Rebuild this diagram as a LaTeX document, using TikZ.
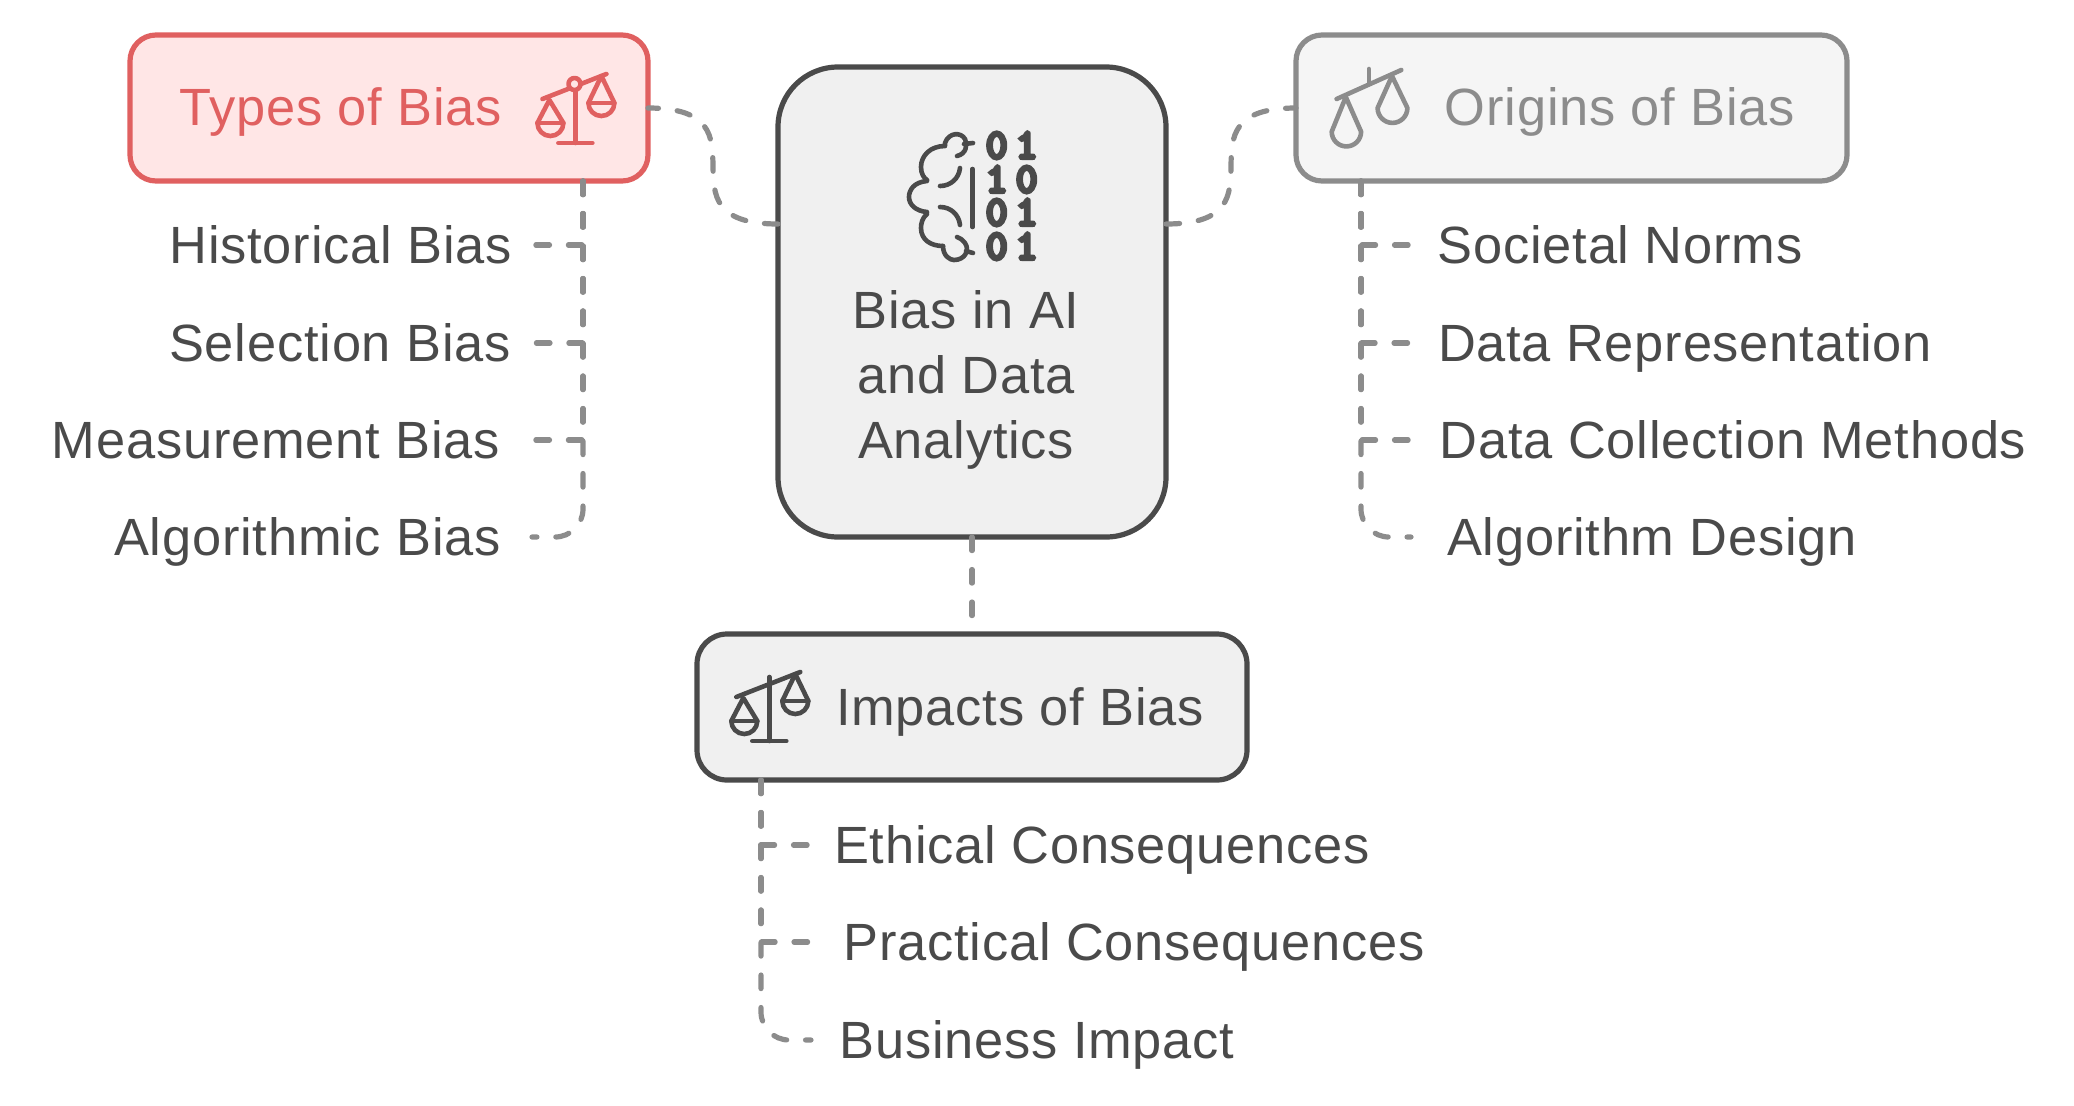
\documentclass[tikz,border=0pt]{standalone}
\usepackage{fontspec}
\setmainfont[LetterSpace=1.5]{Liberation Sans}
\newfontfamily\bitfont[FakeBold=10]{Latin Modern Mono}
\usetikzlibrary{positioning}
\definecolor{biasred}{HTML}{E06060}
\definecolor{biasredfill}{HTML}{FFE6E6}
\definecolor{biasdark}{HTML}{4A4A4A}
\definecolor{biasgrey}{HTML}{8C8C8C}
\tikzset{box/.style={rectangle,line width=2.6pt,outer sep=0pt,inner sep=0pt}}
\tikzset{redbox/.style={box,draw=biasred,fill=biasredfill,minimum width=259pt,minimum height=73pt,rounded corners=13pt}}
\tikzset{greybox/.style={box,draw=biasgrey,fill=black!4,minimum width=275.5pt,minimum height=73pt,rounded corners=13pt}}
\tikzset{darkbox/.style={box,draw=biasdark,fill=black!6,minimum width=275pt,minimum height=73pt,rounded corners=15pt}}
\tikzset{lab/.style={inner sep=0pt,outer sep=0pt,text height=18.8pt,text depth=0pt,text=biasdark,font=\fontsize{26.2}{32.4}\selectfont}}
\tikzset{bit/.style={inner sep=0pt,text height=12pt,text depth=0pt,text=biasdark,font=\fontsize{20.5}{20.5}\bitfont}}
\tikzset{conn/.style={draw=biasgrey,line width=2.6pt,line cap=round,dash pattern=on 6.8pt off 9.45pt}}
\tikzset{icon/.style={line width=2.3pt,line cap=round,line join=round}}
\tikzset{balance/.pic={
  \draw (-33,-44) -- (31,-69);
  \draw (0,-64) -- (0,0);
  \draw (-17,0) -- (17,0);
  \draw (-26,-43) -- (-38,-20) arc (180:0:13) -- cycle;
  \draw (-38,-20) -- (-12,-20);
  \draw (26,-67) -- (13,-40) arc (180:0:13) -- cycle;
  \draw (13,-40) -- (39,-40);
}}
\begin{document}
\begin{tikzpicture}[x=0.5pt,y=-0.5pt]
  \useasboundingbox (0,0) rectangle (2074,1105);
  % boxes
  \node[redbox] (types) at (389,108) {};
  \node[greybox] (origins) at (1571.5,108) {};
  \node[box,draw=biasdark,fill=black!6,minimum width=194pt,minimum height=235pt,rounded corners=30pt] (bias) at (972,302) {};
  \node[darkbox] (impacts) at (972,707) {};
  % titles
  \node[lab,text=biasred] (typeslab) at (340.6,107) {Types of Bias};
  \node[lab,text=biasgrey] (originslab) at (1620,107) {Origins of Bias};
  \node[lab] (impactslab) at (1020,707) {Impacts of Bias};
  \node[lab,align=center,text height=,text depth=] (biaslab) at (966,380) {Bias in AI\\and Data\\Analytics};
  % left column
  \node[lab,minimum width=195pt] (historical) at (340.6,245) {Historical Bias};
  \node[lab,minimum width=196pt] (selection) at (340,343) {Selection Bias};
  \node[lab,minimum width=260pt] (measurement) at (275.8,440) {Measurement Bias};
  \node[lab,minimum width=224.5pt] (algorithmic) at (307.5,537) {Algorithmic Bias};
  % right column
  \node[lab,minimum width=209pt] (societal) at (1620,245) {Societal Norms};
  \node[lab,minimum width=274pt] (datarep) at (1685,343) {Data Representation};
  \node[lab,minimum width=322pt] (datacoll) at (1733,440) {Data Collection Methods};
  \node[lab,minimum width=241pt] (algdesign) at (1652,537) {Algorithm Design};
  % bottom column
  \node[lab,minimum width=291pt] (ethical) at (1102,845) {Ethical Consequences};
  \node[lab,minimum width=323pt] (practical) at (1134,942) {Practical Consequences};
  \node[lab,minimum width=226pt] (business) at (1037,1040) {Business Impact};
  % trunks
  \coordinate (typestrunk) at (583,181);
  \coordinate (originstrunk) at (1361,181);
  \coordinate (impactstrunk) at (761,780);
  % connectors
  \draw[conn] (bias.west |- 0,224) to[out=180,in=0,distance=64pt] (types.east);
  \draw[conn] (bias.east |- 0,224) to[out=0,in=180,distance=64pt] (origins.west);
  \draw[conn] (bias.south) -- (impacts.north);
  \draw[conn] (typestrunk) |- (historical.east);
  \draw[conn] (typestrunk) |- (selection.east);
  \draw[conn] (typestrunk) |- (measurement.east);
  \draw[conn,rounded corners=14pt] (typestrunk) |- (algorithmic.east);
  \draw[conn] (originstrunk) |- (societal.west);
  \draw[conn] (originstrunk) |- (datarep.west);
  \draw[conn] (originstrunk) |- (datacoll.west);
  \draw[conn,rounded corners=14pt] (originstrunk) |- (algdesign.west);
  \draw[conn] (impactstrunk) |- (ethical.west);
  \draw[conn] (impactstrunk) |- (practical.west);
  \draw[conn,rounded corners=14pt] (impactstrunk) |- (business.west);
  % icons
  \pic[icon,color=biasred] at (575.4,143) {balance};
  \draw[icon,biasred,fill=biasredfill] (574.5,84) circle (6);
  \pic[icon,color=biasdark] at (769.3,741) {balance};
  \begin{scope}[icon,color=biasgrey]
    \draw (1336.6,99) -- (1401.3,70);
    \draw (1368.8,69) -- (1368.8,84);
    \draw (1345.8,97) -- (1331.7,131.7) arc (180:0:14.7) -- cycle;
    \draw (1392,76) -- (1377.6,108) arc (180:0:14.9) -- cycle;
  \end{scope}
  \begin{scope}[icon,color=biasdark]
    \draw (957,156) .. controls (966,154) and (968,145) .. (965,139) .. controls (961,132) and (949,132) .. (945,143) -- (945,145);
    \draw (945,146) .. controls (930,146) and (921,156) .. (921,167) .. controls (921,174) and (924,178) .. (927,180);
    \draw (927,181) .. controls (914,182) and (909,190) .. (909,197) .. controls (909,204) and (915,211) .. (927,212);
    \draw (927,214) .. controls (922,218) and (921,224) .. (921,228) .. controls (921,240) and (931,246) .. (943,246);
    \draw (943,246) .. controls (943,256) and (950,260) .. (954,260) .. controls (965,260) and (970,250) .. (965,243) .. controls (963,240) and (960,238) .. (957,237);
    \draw (964,144) -- (973,143);
    \draw (966,251) -- (973,253);
    \draw (960,168) .. controls (959,178) and (951,186) .. (940,186);
    \draw (940,207) .. controls (951,207) and (959,215) .. (960,225);
    \draw (972.5,169) -- (972.5,227);
  \end{scope}
  \foreach \row/\ya/\digita/\digitb in {a/146/0/1,b/180/1/0,c/213/0/1,d/247/0/1}{
    \node[bit] (bit\row1) at (996.7,\ya) {\digita};
    \node[bit] (bit\row2) at (1026.7,\ya) {\digitb};
  }
\end{tikzpicture}
\end{document}
